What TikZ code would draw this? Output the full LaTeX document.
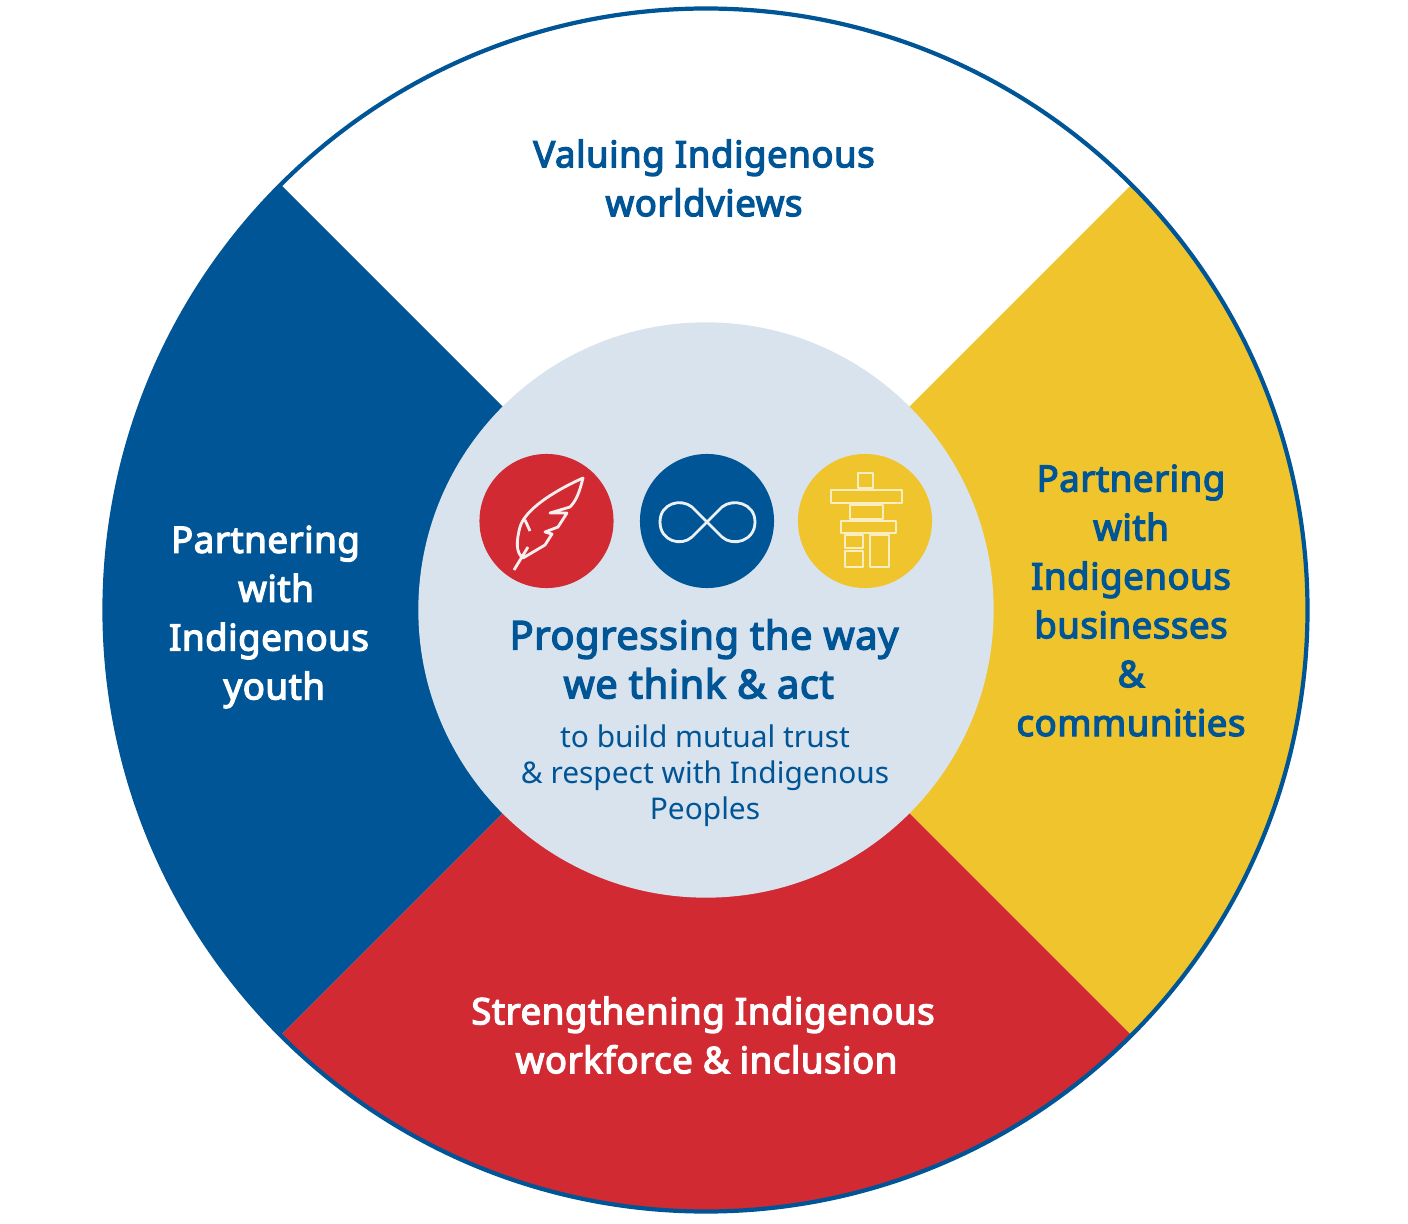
\documentclass[tikz,border=0pt]{standalone}
\usepackage{fontspec}
\setmainfont{Noto Sans}
\newfontfamily\headfont[FakeBold=3.5, LetterSpace=1.5]{Noto Sans}
\usetikzlibrary{positioning}

\definecolor{ringblue}{HTML}{005596}
\definecolor{sunyellow}{HTML}{EFC42C}
\definecolor{firered}{HTML}{D12A33}
\definecolor{palehub}{HTML}{D9E3EE}

\tikzset{
    wedge label/.style={align=center, font=\headfont\fontsize{10.4}{13.9}\selectfont},
    badge/.style={circle, minimum size=1.34cm, inner sep=0pt},
    icon line/.style={line width=0.8pt, line join=round},
}

\begin{document}
\begin{tikzpicture}[x=0.01cm, y=-0.01cm]

        \useasboundingbox (0,0) rectangle (1408,1224);
        \coordinate (O) at (706,610);

        % the four quarters
        \fill[ringblue] (O) -- ++(135:601.5) arc[start angle=135, end angle=225, radius=601.5] -- cycle;
        \fill[sunyellow] (O) -- ++(-45:601.5) arc[start angle=-45, end angle=45, radius=601.5] -- cycle;
        \fill[firered] (O) -- ++(45:601.5) arc[start angle=45, end angle=135, radius=601.5] -- cycle;
        \draw[ringblue, line width=1.2pt] (O) circle[radius=601.5];

        \node[circle, fill=palehub, minimum size=5.75cm, inner sep=0pt] (hub) at (O) {};

        % three badges
        \node[badge, fill=ringblue] (infinity) at (707,521) {};
        \node[badge, fill=firered, left=0.27cm of infinity, xshift=0.02cm] (feather) {};
        \node[badge, fill=sunyellow, right=0.24cm of infinity, xshift=-0.015cm] (stones) {};

        % feather
        \draw[icon line, white!92!firered] (514,570) -- (528,547)
            (523,558) .. controls (516,553) and (516,542) .. (520,527)
            .. controls (525,510) and (552,492) .. (583,478)
            .. controls (580,490) and (577,500) .. (570,507)
            -- (550,513) -- (567,513) -- (558,527) -- (545,532) -- (552,534) -- (545,545) -- cycle
            (525,520) -- (530,531);

        % infinity
        \draw[icon line, white!92!ringblue] (707,522) -- (722,507) .. controls (733,498) and (755,503) .. (755,522)
            .. controls (755,541) and (733,547) .. (722,537) -- (692,507)
            .. controls (681,498) and (660,503) .. (660,522)
            .. controls (660,541) and (681,547) .. (692,537) -- cycle;

        % stone figure
        \draw[icon line, white!70!sunyellow] (858,473) rectangle (873,488)
            (831,490) rectangle (902,503)
            (850,505) rectangle (883,519)
            (841,521) rectangle (896,533)
            (845,535) rectangle (863,548)
            (845,551) rectangle (863,567)
            (870,535) rectangle (889,567);

        % centre text
        \node[align=center, text=ringblue, font=\headfont\fontsize{11.3}{13.9}\selectfont] (title) at (704,659) {Progressing the way\\\hspace*{-3pt}we think \& act};
        \node[align=center, text=ringblue, font=\fontsize{8.5}{10.3}\selectfont] (subtitle) at (705,776) {to build mutual trust\\\& respect with Indigenous\\Peoples};

        % quarter labels
        \node[wedge label, text=ringblue] (top) at (704,178) {Valuing Indigenous\\worldviews};
        \node[wedge label, text=white] (left) at (269,617) {\hspace*{-2pt}Partnering\\\hspace*{4pt}with\\Indigenous\\\hspace*{3pt}youth};
        \node[wedge label, text=ringblue] (right) at (1131,600.5) {Partnering\\with\\Indigenous\\businesses\\\&\\communities};
        \node[wedge label, text=white] (bottom) at (703,1035) {Strengthening Indigenous\\\hspace*{2pt}workforce \& inclusion};

    \end{tikzpicture}
\end{document}
